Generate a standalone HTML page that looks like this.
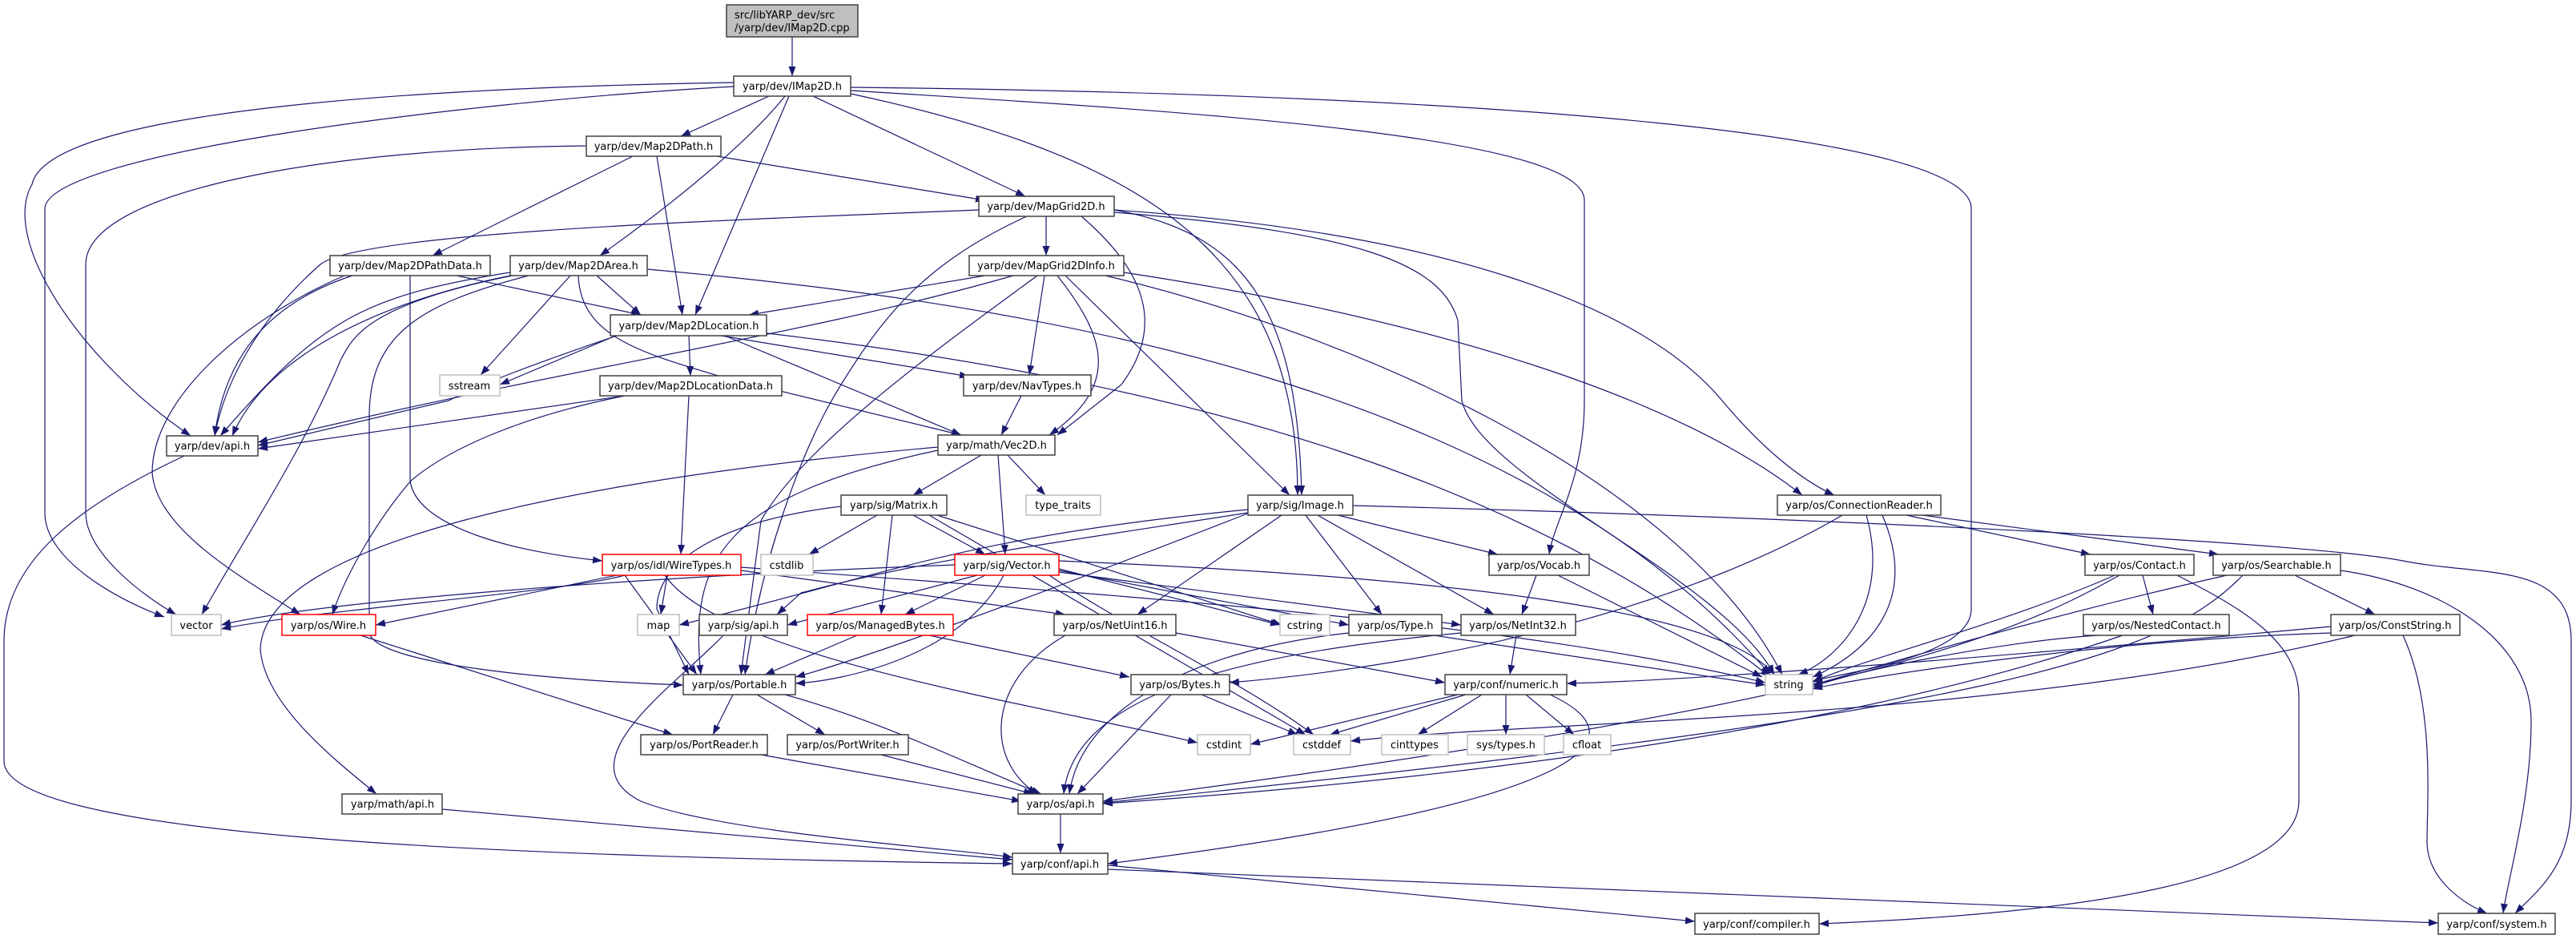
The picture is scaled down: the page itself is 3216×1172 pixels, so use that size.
<!DOCTYPE html>
<html><head><meta charset="utf-8"><style>
html,body{margin:0;padding:0;background:#fff;width:3216px;height:1172px;overflow:hidden}
svg{display:block}
.n rect{fill:#fff;stroke:#404040;stroke-width:1.5}
.n.g rect{stroke:#bfbfbf}
.n.r rect{stroke:#ff0000}
.n.s rect{fill:#bfbfbf}
text{font-family:"DejaVu Sans","Liberation Sans",sans-serif;font-size:13px;fill:#000;text-anchor:middle}
.e path{fill:none;stroke:#191970;stroke-width:1.2;marker-end:url(#a)}
</style></head><body>
<svg width="3216" height="1172" viewBox="0 0 3216 1172" xmlns="http://www.w3.org/2000/svg">
<defs><marker id="a" markerUnits="userSpaceOnUse" markerWidth="12" markerHeight="9" refX="12" refY="4.5" orient="auto"><path d="M0,0 L12,4.5 L0,9 z" fill="#191970"/></marker></defs>
<g class="e">
<path d="M989,46 L989,95"/>
<path d="M960,120 L850,170"/>
<path d="M980,120 C940,170 860,240 749,319"/>
<path d="M985,120 L868,393"/>
<path d="M1015,120 L1280,245"/>
<path d="M916,103 C500,110 60,140 40,230 C0,300 100,450 238,544"/>
<path d="M916,108 C600,125 60,190 56,260 L56,640 C56,700 150,750 205,770"/>
<path d="M732,182 C400,185 107,240 107,330 L107,640 C107,690 180,745 220,767"/>
<path d="M1062,117 C1450,200 1620,330 1620,618"/>
<path d="M1062,113 C1500,140 1978,170 1978,250 L1978,500 C1978,600 1940,650 1934,692"/>
<path d="M1062,109 C1900,118 2461,170 2461,260 L2461,760 C2461,820 2300,840 2263,850"/>
<path d="M790,195 L540,319"/>
<path d="M820,195 L852,393"/>
<path d="M895,195 L1230,250"/>
<path d="M1222,262 C900,275 450,290 400,330 C320,400 280,480 268,544"/>
<path d="M440,344 C330,380 280,450 268,544"/>
<path d="M570,344 L800,393"/>
<path d="M512,344 L512,600 C520,660 650,690 752,700"/>
<path d="M660,344 C520,380 461,420 461,520 L461,790 C470,830 700,850 853,855"/>
<path d="M430,344 C300,400 190,500 190,590 C195,660 300,720 375,767"/>
<path d="M637,340 C450,370 400,400 275,544"/>
<path d="M637,344 C460,380 330,450 290,544"/>
<path d="M640,344 C460,380 440,420 425,450 C380,560 300,680 252,767"/>
<path d="M712,344 L600,468"/>
<path d="M745,344 L800,393"/>
<path d="M722,344 C725,420 800,440 900,470 L1200,543"/>
<path d="M808,336 C1300,380 1900,480 2210,842"/>
<path d="M780,494 C650,520 560,560 513,600 C470,650 430,720 415,767"/>
<path d="M790,410 L624,480"/>
<path d="M860,419 L862,469"/>
<path d="M770,419 C650,460 600,480 560,500 L322,556"/>
<path d="M900,419 L1210,470"/>
<path d="M905,419 L1200,543"/>
<path d="M950,415 C1500,480 1900,600 2210,845"/>
<path d="M780,494 L322,560"/>
<path d="M860,494 L850,692"/>
<path d="M1306,270 L1306,319"/>
<path d="M1282,270 C1150,330 1100,400 1050,480 C1000,560 950,700 930,842"/>
<path d="M1350,270 C1420,330 1460,400 1400,480 L1320,543"/>
<path d="M1391,262 C1550,290 1620,380 1625,618"/>
<path d="M1391,262 C1800,290 2050,380 2150,500 C2200,560 2250,600 2290,618"/>
<path d="M1391,265 C1700,290 1800,330 1820,400 L1825,500 C1850,600 2150,720 2215,842"/>
<path d="M1230,344 L935,393"/>
<path d="M1265,344 C1000,420 700,460 322,552"/>
<path d="M1304,344 L1285,468"/>
<path d="M1320,344 C1380,420 1400,480 1310,543"/>
<path d="M1330,344 L1610,618"/>
<path d="M1295,344 C1150,450 1000,560 950,650 L925,842"/>
<path d="M1380,344 C1700,420 2100,600 2225,842"/>
<path d="M1403,340 C1800,400 2100,500 2250,618"/>
<path d="M1275,494 L1250,543"/>
<path d="M1225,568 L1140,618"/>
<path d="M1258,568 L1305,618"/>
<path d="M1246,568 L1255,692"/>
<path d="M1171,558 C700,600 330,680 325,810 C330,880 420,950 470,991"/>
<path d="M1171,562 C900,620 860,700 875,842"/>
<path d="M1095,643 L1010,692"/>
<path d="M1140,643 L1230,692"/>
<path d="M1114,643 L1100,767"/>
<path d="M1050,632 C900,650 820,700 820,760 L860,842"/>
<path d="M1160,643 L1630,917"/>
<path d="M1170,643 L1600,780"/>
<path d="M1220,718 L983,780"/>
<path d="M1230,718 L1130,767"/>
<path d="M1253,718 C1200,820 1050,850 993,853"/>
<path d="M1192,705 C800,720 400,750 276,780"/>
<path d="M1322,710 L1598,780"/>
<path d="M1322,712 L1684,780"/>
<path d="M1322,714 L1824,780"/>
<path d="M1322,700 C1800,720 2150,760 2215,842"/>
<path d="M1310,718 C1400,780 1550,850 1640,917"/>
<path d="M833,718 L825,767"/>
<path d="M780,718 C700,740 400,760 276,785"/>
<path d="M770,718 L469,780"/>
<path d="M925,712 L1330,767"/>
<path d="M925,708 C1500,750 1900,780 2204,852"/>
<path d="M830,718 C900,820 1300,880 1495,927"/>
<path d="M780,718 L870,842"/>
<path d="M1560,640 C1200,780 1050,830 993,845"/>
<path d="M1600,643 L1420,767"/>
<path d="M1670,643 L1870,692"/>
<path d="M1630,643 L1725,767"/>
<path d="M1645,643 L1865,767"/>
<path d="M1558,640 C1300,680 1150,700 1000,740 L970,767"/>
<path d="M1558,636 C1200,670 1100,720 848,780"/>
<path d="M1689,631 C2400,650 2900,680 3000,700 C3100,720 3210,700 3210,800 L3210,1000 C3210,1080 3170,1110 3140,1140"/>
<path d="M1918,718 L1900,767"/>
<path d="M1945,718 L2200,845"/>
<path d="M1070,793 L955,842"/>
<path d="M1160,793 L1410,845"/>
<path d="M903,793 C850,850 700,950 800,1000 C900,1040 1200,1060 1264,1070"/>
<path d="M450,793 L840,917"/>
<path d="M915,867 L890,917"/>
<path d="M945,867 L1030,917"/>
<path d="M980,867 C1100,900 1200,950 1300,991"/>
<path d="M950,942 L1275,1000"/>
<path d="M1100,942 L1290,991"/>
<path d="M1330,793 C1230,850 1230,950 1295,991"/>
<path d="M1468,790 L1804,852"/>
<path d="M1462,867 L1345,991"/>
<path d="M1500,867 L1620,917"/>
<path d="M1684,790 C1500,810 1350,880 1335,991"/>
<path d="M1790,793 L2204,855"/>
<path d="M1893,793 L1885,842"/>
<path d="M1824,790 C1500,820 1340,880 1328,991"/>
<path d="M1830,867 L1660,917"/>
<path d="M1850,867 L1770,917"/>
<path d="M1880,867 L1880,917"/>
<path d="M1905,867 L1965,917"/>
<path d="M1820,867 L1561,929"/>
<path d="M1935,867 C2050,920 2000,1000 1383,1078"/>
<path d="M2300,643 C2100,760 1800,830 1535,852"/>
<path d="M2910,782 C2500,820 2100,850 1956,853"/>
<path d="M2380,643 L2610,692"/>
<path d="M2400,643 L2770,692"/>
<path d="M2330,643 C2360,750 2300,820 2245,842"/>
<path d="M2350,643 C2400,760 2320,820 2263,845"/>
<path d="M2646,718 C2500,800 2300,880 1377,1000"/>
<path d="M2800,718 C2700,820 2500,890 1377,1002"/>
<path d="M2650,793 C2400,880 2000,960 1377,1003"/>
<path d="M2940,793 C2500,900 1900,900 1686,925"/>
<path d="M2675,718 L2688,767"/>
<path d="M2640,718 C2500,780 2300,830 2263,852"/>
<path d="M2718,718 C2800,760 2870,800 2870,870 L2870,1000 C2870,1100 2600,1140 2271,1153"/>
<path d="M2865,718 L2965,767"/>
<path d="M2780,718 C2550,770 2350,830 2263,855"/>
<path d="M2922,712 C3050,730 3160,800 3160,900 C3160,1000 3130,1100 3125,1140"/>
<path d="M2620,793 C2500,800 2300,840 2263,858"/>
<path d="M2910,790 C2600,800 2300,850 2263,860"/>
<path d="M3000,793 C3040,880 3030,1000 3030,1050 C3030,1100 3080,1130 3105,1140"/>
<path d="M1324,1016 L1324,1065"/>
<path d="M1383,1080 L2116,1150"/>
<path d="M1383,1085 L3044,1152"/>
<path d="M230,569 C100,630 5,700 5,800 L5,950 C5,1050 700,1070 1264,1078"/>
<path d="M552,1010 L1264,1073"/>
</g>
<g>
<g class="n s"><rect x="907" y="6" width="164" height="40"/><text x="917" y="23" style="text-anchor:start">src/libYARP_dev/src</text><text x="917" y="39" style="text-anchor:start">/yarp/dev/IMap2D.cpp</text></g>
<g class="n"><rect x="916" y="95" width="146" height="25"/><text x="989" y="112">yarp/dev/IMap2D.h</text></g>
<g class="n"><rect x="732" y="170" width="168" height="25"/><text x="816" y="187">yarp/dev/Map2DPath.h</text></g>
<g class="n"><rect x="412" y="319" width="200" height="25"/><text x="512" y="336">yarp/dev/Map2DPathData.h</text></g>
<g class="n"><rect x="637" y="319" width="171" height="25"/><text x="722" y="336">yarp/dev/Map2DArea.h</text></g>
<g class="n"><rect x="762" y="393" width="195" height="26"/><text x="860" y="411">yarp/dev/Map2DLocation.h</text></g>
<g class="n"><rect x="749" y="469" width="227" height="25"/><text x="862" y="486">yarp/dev/Map2DLocationData.h</text></g>
<g class="n g"><rect x="549" y="468" width="75" height="26"/><text x="586" y="486">sstream</text></g>
<g class="n"><rect x="208" y="544" width="114" height="25"/><text x="265" y="561">yarp/dev/api.h</text></g>
<g class="n"><rect x="1222" y="245" width="169" height="25"/><text x="1306" y="262">yarp/dev/MapGrid2D.h</text></g>
<g class="n"><rect x="1210" y="319" width="193" height="25"/><text x="1306" y="336">yarp/dev/MapGrid2DInfo.h</text></g>
<g class="n"><rect x="1203" y="468" width="159" height="26"/><text x="1282" y="486">yarp/dev/NavTypes.h</text></g>
<g class="n"><rect x="1171" y="543" width="146" height="25"/><text x="1244" y="560">yarp/math/Vec2D.h</text></g>
<g class="n g"><rect x="214" y="767" width="62" height="26"/><text x="245" y="785">vector</text></g>
<g class="n r"><rect x="352" y="767" width="117" height="26"/><text x="410" y="785">yarp/os/Wire.h</text></g>
<g class="n"><rect x="427" y="991" width="125" height="25"/><text x="490" y="1008">yarp/math/api.h</text></g>
<g class="n r"><rect x="752" y="692" width="173" height="26"/><text x="838" y="710">yarp/os/idl/WireTypes.h</text></g>
<g class="n g"><rect x="796" y="767" width="52" height="26"/><text x="822" y="785">map</text></g>
<g class="n"><rect x="1050" y="618" width="132" height="25"/><text x="1116" y="635">yarp/sig/Matrix.h</text></g>
<g class="n g"><rect x="1281" y="618" width="93" height="25"/><text x="1327" y="635">type_traits</text></g>
<g class="n"><rect x="1558" y="618" width="131" height="25"/><text x="1623" y="635">yarp/sig/Image.h</text></g>
<g class="n g"><rect x="950" y="692" width="65" height="26"/><text x="982" y="710">cstdlib</text></g>
<g class="n r"><rect x="1192" y="692" width="130" height="26"/><text x="1257" y="710">yarp/sig/Vector.h</text></g>
<g class="n"><rect x="873" y="767" width="110" height="26"/><text x="928" y="785">yarp/sig/api.h</text></g>
<g class="n r"><rect x="1008" y="767" width="182" height="26"/><text x="1099" y="785">yarp/os/ManagedBytes.h</text></g>
<g class="n"><rect x="1316" y="767" width="152" height="26"/><text x="1392" y="785">yarp/os/NetUint16.h</text></g>
<g class="n"><rect x="853" y="842" width="140" height="25"/><text x="923" y="859">yarp/os/Portable.h</text></g>
<g class="n"><rect x="1412" y="842" width="123" height="25"/><text x="1473" y="859">yarp/os/Bytes.h</text></g>
<g class="n"><rect x="800" y="917" width="158" height="25"/><text x="879" y="934">yarp/os/PortReader.h</text></g>
<g class="n"><rect x="983" y="917" width="151" height="25"/><text x="1058" y="934">yarp/os/PortWriter.h</text></g>
<g class="n g"><rect x="1495" y="917" width="66" height="25"/><text x="1528" y="934">cstdint</text></g>
<g class="n"><rect x="1271" y="991" width="106" height="25"/><text x="1324" y="1008">yarp/os/api.h</text></g>
<g class="n"><rect x="1264" y="1065" width="119" height="26"/><text x="1323" y="1083">yarp/conf/api.h</text></g>
<g class="n"><rect x="2219" y="618" width="204" height="25"/><text x="2321" y="635">yarp/os/ConnectionReader.h</text></g>
<g class="n"><rect x="1859" y="692" width="125" height="26"/><text x="1921" y="710">yarp/os/Vocab.h</text></g>
<g class="n g"><rect x="1598" y="767" width="62" height="26"/><text x="1629" y="785">cstring</text></g>
<g class="n"><rect x="1684" y="767" width="116" height="26"/><text x="1742" y="785">yarp/os/Type.h</text></g>
<g class="n"><rect x="1824" y="767" width="143" height="26"/><text x="1895" y="785">yarp/os/NetInt32.h</text></g>
<g class="n"><rect x="1804" y="842" width="152" height="25"/><text x="1880" y="859">yarp/conf/numeric.h</text></g>
<g class="n g"><rect x="2204" y="842" width="59" height="25"/><text x="2233" y="859">string</text></g>
<g class="n g"><rect x="1615" y="917" width="71" height="25"/><text x="1650" y="934">cstddef</text></g>
<g class="n g"><rect x="1725" y="917" width="83" height="25"/><text x="1766" y="934">cinttypes</text></g>
<g class="n g"><rect x="1832" y="917" width="96" height="25"/><text x="1880" y="934">sys/types.h</text></g>
<g class="n g"><rect x="1952" y="917" width="59" height="25"/><text x="1981" y="934">cfloat</text></g>
<g class="n"><rect x="2116" y="1140" width="155" height="26"/><text x="2193" y="1158">yarp/conf/compiler.h</text></g>
<g class="n"><rect x="2603" y="692" width="136" height="26"/><text x="2671" y="710">yarp/os/Contact.h</text></g>
<g class="n"><rect x="2763" y="692" width="159" height="26"/><text x="2842" y="710">yarp/os/Searchable.h</text></g>
<g class="n"><rect x="2601" y="767" width="182" height="26"/><text x="2692" y="785">yarp/os/NestedContact.h</text></g>
<g class="n"><rect x="2910" y="767" width="161" height="26"/><text x="2990" y="785">yarp/os/ConstString.h</text></g>
<g class="n"><rect x="3044" y="1140" width="146" height="26"/><text x="3117" y="1158">yarp/conf/system.h</text></g>
</g>
</svg>
</body></html>
